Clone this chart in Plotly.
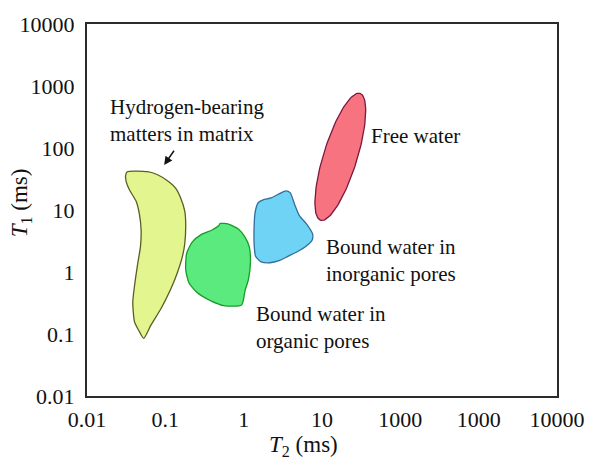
import numpy as np
import plotly.graph_objects as go

# ---- T2-T1 regions (values in ms) ----
# Hydrogen-bearing matters in matrix
matrix_t2 = [0.0327, 0.0595, 0.0796, 0.112, 0.136, 0.157, 0.177, 0.182, 0.177, 0.165,
             0.142, 0.117, 0.0878, 0.0657, 0.0529, 0.0467, 0.0404, 0.0384, 0.0404, 0.0445,
             0.0481, 0.0491, 0.0467, 0.0424, 0.0349, 0.0317, 0.0311]
matrix_t1 = [41.5, 41.5, 37.0, 28.4, 22.4, 15.6, 9.57, 5.91, 2.86, 1.77,
             0.964, 0.526, 0.255, 0.140, 0.0850, 0.109, 0.157, 0.325, 0.595, 1.39,
             2.54, 4.64, 8.49, 13.8, 21.0, 28.4, 36.0]

# Bound water in organic pores
organic_t2 = [0.503, 0.640, 0.856, 1.04, 1.18, 1.22, 1.15, 1.04, 0.942, 0.553,
              0.376, 0.254, 0.200, 0.182, 0.187, 0.220, 0.286, 0.394, 0.479]
organic_t1 = [6.07, 5.91, 4.93, 3.65, 2.54, 1.39, 0.757, 0.497, 0.294, 0.288,
              0.346, 0.467, 0.671, 1.09, 1.99, 3.04, 4.01, 4.75, 5.56]

# Bound water in inorganic pores
inorganic_t2 = [1.53, 1.77, 2.24, 2.91, 3.46, 3.94, 4.43, 5.12, 6.37, 7.58, 7.47,
                6.19, 4.90, 3.67, 2.82, 2.17, 1.67, 1.42, 1.36, 1.36, 1.40]
inorganic_t1 = [13.1, 14.6, 15.7, 18.5, 20.3, 18.9, 12.7, 8.19, 5.91, 4.11, 3.25,
                2.57, 2.14, 1.79, 1.52, 1.41, 1.46, 1.79, 2.86, 5.50, 9.14]

# Free water: ellipse given by its centre and the tips of its two half-axes
free_center = (17.13, 72.2)
free_major_tip = (30.5, 762.0)
free_minor_tip = (27.5, 60.3)

# ---- axis ticks ----
tick_vals = [0.01, 0.1, 1, 10, 100, 1000, 10000]
x_tick_text = ["0.01", "0.1", "1", "10", "1000", "1000", "10000"]
y_tick_text = ["0.01", "0.1", "1", "10", "100", "1000", "10000"]

FONT = "Liberation Serif, Times New Roman, serif"


def ellipse(center, major_tip, minor_tip, n=120):
    c = np.log10(center)
    a = np.log10(major_tip) - c
    b = np.log10(minor_tip) - c
    t = np.linspace(0, 2 * np.pi, n)
    pts = c[None, :] + np.cos(t)[:, None] * a[None, :] + np.sin(t)[:, None] * b[None, :]
    return 10 ** pts[:, 0], 10 ** pts[:, 1]


def closed(xs, ys):
    return list(xs) + [xs[0]], list(ys) + [ys[0]]


fig = go.Figure()

regions = [
    (matrix_t2, matrix_t1, "#e2f58e", "#5c5c24"),
    (organic_t2, organic_t1, "#5bea7d", "#169c28"),
    (inorganic_t2, inorganic_t1, "#6fd3f5", "#336e9c"),
]
for xs, ys, fill, edge in regions:
    cx, cy = closed(xs, ys)
    fig.add_trace(go.Scatter(
        x=cx, y=cy, mode="lines", fill="toself", fillcolor=fill,
        line=dict(color=edge, width=1.3, shape="spline", smoothing=0.6),
        hoverinfo="skip", showlegend=False))

fx, fy = ellipse(np.array(free_center), np.array(free_major_tip), np.array(free_minor_tip))
fig.add_trace(go.Scatter(
    x=fx, y=fy, mode="lines", fill="toself", fillcolor="#f7737f",
    line=dict(color="#7a1840", width=1.3),
    hoverinfo="skip", showlegend=False))

label_font = dict(family=FONT, size=21, color="#111111")
labels = [
    (0.0184, 276.0, "Hydrogen-bearing<br>matters in matrix"),
    (39.5, 155.0, "Free water"),
    (10.45, 1.52, "Bound water in<br>inorganic pores"),
    (1.364, 0.129, "Bound water in<br>organic pores"),
]
for lx, ly, txt in labels:
    fig.add_annotation(x=np.log10(lx), y=np.log10(ly), xref="x", yref="y",
                       text=txt, showarrow=False, xanchor="left", yanchor="middle",
                       align="left", font=label_font)

# arrow pointing at the matrix region
fig.add_annotation(x=np.log10(0.0966), y=np.log10(53.4), xref="x", yref="y",
                   ax=np.log10(0.133), ay=np.log10(95.4), axref="x", ayref="y",
                   text="", showarrow=True, arrowhead=2, arrowsize=1.1,
                   arrowwidth=1.5, arrowcolor="#111111")

# axis titles
fig.add_annotation(x=0.46, y=-0.134, xref="paper", yref="paper",
                   text="<i>T</i><sub>2</sub> (ms)", showarrow=False,
                   xanchor="center", yanchor="middle",
                   font=dict(family=FONT, size=23, color="#111111"))
fig.add_annotation(x=-0.141, y=0.52, xref="paper", yref="paper",
                   text="<i>T</i><sub>1</sub> (ms)", showarrow=False, textangle=-90,
                   xanchor="center", yanchor="middle",
                   font=dict(family=FONT, size=23, color="#111111"))

axis_common = dict(type="log", range=[-2, 4], tickvals=tick_vals, showgrid=False,
                   zeroline=False, showline=True, mirror=True, linecolor="#2b2b2b",
                   linewidth=2, ticks="",
                   tickfont=dict(family=FONT, size=22, color="#111111"))

fig.update_layout(
    width=597, height=463,
    margin=dict(l=87, r=35, t=15, b=67),
    paper_bgcolor="white", plot_bgcolor="white",
    xaxis=dict(ticktext=x_tick_text, ticklabelstandoff=3, **axis_common),
    yaxis=dict(ticktext=y_tick_text, ticklabelstandoff=6, **axis_common),
)

fig.write_html("out.html")
